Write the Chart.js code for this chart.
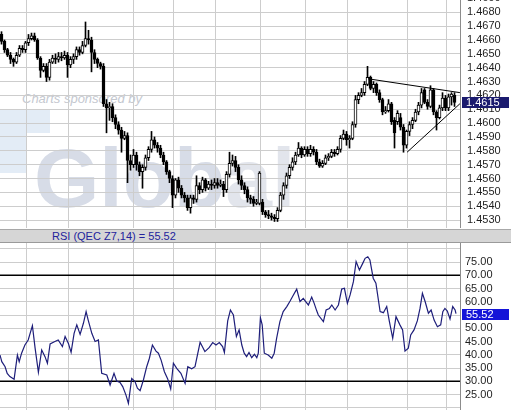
<!DOCTYPE html>
<html><head><meta charset="utf-8">
<script src="https://cdn.jsdelivr.net/npm/chart.js@4.4.1/dist/chart.umd.min.js"></script>
<style>
html,body{margin:0;padding:0;background:#fff;}
body{width:511px;height:410px;position:relative;overflow:hidden;font-family:'Liberation Sans',Arial,sans-serif;}
.abs{position:absolute;}
#wmSp{left:22px;top:91px;font:italic 13px 'Liberation Sans',Arial,sans-serif;color:#c4c8d0;white-space:nowrap;}
#wmG{left:34px;top:136px;font:bold 84px/84px 'Liberation Sans',Arial,sans-serif;color:#d7dce7;white-space:nowrap;}
#wmG span{color:#e2e5ec;}
#rsiBar{left:0;top:229px;width:511px;height:12px;background:#d6d6d6;border-top:1px solid #a8a8a8;border-bottom:1px solid #9a9a9a;font:11px/12px 'Liberation Sans',Arial,sans-serif;color:#23239c;}
#rsiBar span{position:absolute;left:52px;top:0;}
</style></head>
<body>
<div class="abs" style="left:0;top:110px;width:50px;height:23px;background:#e3ecf6"></div>
<div class="abs" style="left:0;top:133px;width:27px;height:40px;background:#e3ecf6"></div>
<div class="abs" id="wmSp">Charts sponsored by</div>
<div class="abs" id="wmG">Glob<span>al</span></div>
<canvas id="price" class="abs" width="511" height="248" style="left:0;top:-20px;width:511px;height:248px"></canvas>
<div id="rsiBar" class="abs"><span id="rsiTitle"></span></div>
<canvas id="rsi" class="abs" width="511" height="167" style="left:0;top:243px;width:511px;height:167px"></canvas>
<script>
// ---- data ----
const open = [1.4664,1.4659,1.4653,1.4649,1.4646,1.4644,1.4649,1.4654,1.4653,1.4658,
1.4661,1.4663,1.4660,1.4647,1.4638,1.4641,1.4633,1.4644,1.4647,1.4646,
1.4648,1.4647,1.4649,1.4642,1.4646,1.4648,1.4653,1.4651,1.4656,1.4661,
1.4660,1.4651,1.4646,1.4643,1.4641,1.4614,1.4611,1.4612,1.4604,1.4599,
1.4595,1.4589,1.4591,1.4573,1.4570,1.4577,1.4570,1.4565,1.4568,1.4575,
1.4581,1.4588,1.4584,1.4582,1.4577,1.4572,1.4565,1.4560,1.4548,1.4559,
1.4553,1.4548,1.4546,1.4539,1.4546,1.4545,1.4555,1.4552,1.4559,1.4553,
1.4556,1.4555,1.4557,1.4555,1.4556,1.4552,1.4563,1.4571,1.4573,1.4568,
1.4559,1.4555,1.4552,1.4546,1.4545,1.4542,1.4542,1.4543,1.4536,1.4534,
1.4533,1.4532,1.4531,1.4537,1.4548,1.4555,1.4562,1.4568,1.4572,1.4577,
1.4582,1.4577,1.4581,1.4578,1.4581,1.4579,1.4572,1.4569,1.4571,1.4575,
1.4576,1.4579,1.4578,1.4581,1.4589,1.4592,1.4588,1.4589,1.4599,1.4617,
1.4620,1.4622,1.4628,1.4633,1.4625,1.4628,1.4622,1.4617,1.4608,1.4609,
1.4614,1.4602,1.4601,1.4604,1.4597,1.4584,1.4594,1.4599,1.4602,1.4608,
1.4613,1.4624,1.4615,1.4612,1.4624,1.4608,1.4604,1.4611,1.4618,1.4611,
1.4619,1.4620];
const high = [1.4666,1.4660,1.4654,1.4651,1.4647,1.4651,1.4656,1.4656,1.4659,1.4664,
1.4665,1.4665,1.4661,1.4648,1.4643,1.4643,1.4646,1.4649,1.4650,1.4651,
1.4651,1.4652,1.4651,1.4648,1.4650,1.4655,1.4655,1.4659,1.4673,1.4667,
1.4662,1.4653,1.4647,1.4644,1.4643,1.4617,1.4615,1.4614,1.4606,1.4601,
1.4597,1.4594,1.4593,1.4577,1.4581,1.4579,1.4572,1.4570,1.4577,1.4583,
1.4594,1.4590,1.4586,1.4584,1.4579,1.4573,1.4566,1.4562,1.4560,1.4561,
1.4555,1.4550,1.4548,1.4548,1.4548,1.4562,1.4557,1.4561,1.4560,1.4558,
1.4559,1.4560,1.4560,1.4559,1.4558,1.4565,1.4579,1.4577,1.4576,1.4570,
1.4562,1.4557,1.4554,1.4548,1.4547,1.4545,1.4565,1.4545,1.4537,1.4537,
1.4535,1.4534,1.4539,1.4550,1.4557,1.4564,1.4570,1.4575,1.4579,1.4586,
1.4583,1.4583,1.4583,1.4584,1.4583,1.4581,1.4574,1.4573,1.4577,1.4578,
1.4581,1.4581,1.4583,1.4591,1.4595,1.4594,1.4591,1.4601,1.4620,1.4622,
1.4625,1.4630,1.4641,1.4634,1.4630,1.4629,1.4624,1.4618,1.4612,1.4617,
1.4615,1.4604,1.4609,1.4607,1.4599,1.4595,1.4601,1.4604,1.4610,1.4615,
1.4625,1.4625,1.4617,1.4627,1.4625,1.4609,1.4613,1.4622,1.4620,1.4621,
1.4622,1.4622];
const low = [1.4657,1.4651,1.4648,1.4643,1.4641,1.4643,1.4648,1.4651,1.4651,1.4656,
1.4660,1.4659,1.4646,1.4633,1.4637,1.4630,1.4631,1.4643,1.4643,1.4644,
1.4645,1.4646,1.4633,1.4640,1.4643,1.4646,1.4649,1.4650,1.4655,1.4657,
1.4637,1.4643,1.4640,1.4639,1.4612,1.4593,1.4602,1.4601,1.4596,1.4592,
1.4579,1.4588,1.4557,1.4566,1.4568,1.4566,1.4562,1.4553,1.4566,1.4573,
1.4579,1.4582,1.4579,1.4575,1.4570,1.4563,1.4557,1.4539,1.4546,1.4550,
1.4546,1.4543,1.4537,1.4535,1.4542,1.4543,1.4549,1.4550,1.4551,1.4552,
1.4552,1.4553,1.4553,1.4554,1.4547,1.4550,1.4561,1.4569,1.4565,1.4556,
1.4552,1.4549,1.4543,1.4542,1.4540,1.4541,1.4541,1.4534,1.4532,1.4531,
1.4530,1.4529,1.4529,1.4536,1.4545,1.4553,1.4560,1.4566,1.4570,1.4576,
1.4575,1.4576,1.4576,1.4576,1.4577,1.4570,1.4568,1.4568,1.4570,1.4573,
1.4575,1.4576,1.4577,1.4579,1.4588,1.4584,1.4582,1.4588,1.4597,1.4614,
1.4619,1.4620,1.4627,1.4624,1.4622,1.4620,1.4615,1.4606,1.4607,1.4608,
1.4599,1.4582,1.4599,1.4595,1.4579,1.4582,1.4591,1.4596,1.4601,1.4606,
1.4611,1.4614,1.4610,1.4611,1.4606,1.4595,1.4603,1.4609,1.4609,1.4609,
1.4613,1.4612];
const close = [1.4659,1.4653,1.4649,1.4646,1.4644,1.4649,1.4654,1.4653,1.4658,1.4661,
1.4663,1.4660,1.4647,1.4638,1.4641,1.4633,1.4644,1.4647,1.4646,1.4648,
1.4647,1.4649,1.4642,1.4646,1.4648,1.4653,1.4651,1.4656,1.4661,1.4660,
1.4651,1.4646,1.4643,1.4641,1.4614,1.4611,1.4612,1.4604,1.4599,1.4595,
1.4589,1.4591,1.4573,1.4570,1.4577,1.4570,1.4565,1.4568,1.4575,1.4581,
1.4588,1.4584,1.4582,1.4577,1.4572,1.4565,1.4560,1.4548,1.4559,1.4553,
1.4548,1.4546,1.4539,1.4546,1.4545,1.4555,1.4552,1.4559,1.4553,1.4556,
1.4555,1.4557,1.4555,1.4556,1.4552,1.4563,1.4571,1.4573,1.4568,1.4559,
1.4555,1.4552,1.4546,1.4545,1.4542,1.4543,1.4564,1.4536,1.4534,1.4533,
1.4532,1.4531,1.4537,1.4548,1.4555,1.4562,1.4568,1.4572,1.4577,1.4582,
1.4577,1.4581,1.4578,1.4581,1.4579,1.4572,1.4569,1.4571,1.4575,1.4576,
1.4579,1.4578,1.4581,1.4589,1.4592,1.4588,1.4589,1.4599,1.4617,1.4620,
1.4622,1.4628,1.4633,1.4625,1.4628,1.4622,1.4617,1.4608,1.4609,1.4614,
1.4601,1.4593,1.4607,1.4597,1.4584,1.4594,1.4599,1.4602,1.4608,1.4613,
1.4622,1.4615,1.4612,1.4624,1.4608,1.4604,1.4611,1.4618,1.4611,1.4619,
1.4621,1.4615];

// session (day) separators, in bar units
const dayBreaks = [8.9, 22.8, 44.4, 57.8, 71.7, 86.7, 101.9, 115.8, 135.8, 148.9];
// triangle trend lines (bar units, price)
const upperLineX = [122.7, 153.3], upperLineY = [1.4632, 1.4622];
const lowerLineX = [135.7, 153.3], lowerLineY = [1.4579, 1.4614];

// RSI (14) vertices, bar units
const rsiPos = [0.0,0.6,1.7,2.4,3.3,4.7,5.8,6.4,7.2,8.3,9.4,10.8,11.7,12.8,13.9,15.0,15.8,16.7,18.3,19.4,
20.8,21.7,22.8,23.7,24.7,25.6,26.7,27.8,28.7,29.4,30.6,31.7,32.8,33.9,35.6,36.7,38.0,38.9,40.0,40.9,
42.0,42.8,43.9,45.0,45.8,46.7,47.8,48.9,49.8,50.8,52.0,52.8,53.7,54.8,55.9,56.9,57.8,58.9,60.3,61.7,
62.6,63.9,65.0,66.7,68.3,69.7,70.9,72.0,73.1,74.2,74.8,75.9,76.8,77.8,78.8,79.7,80.6,81.4,82.2,83.0,
83.9,84.8,85.6,86.1,86.8,87.4,88.1,89.4,90.6,91.4,92.2,93.3,94.4,95.6,96.7,97.8,98.9,100.0,101.1,101.9,
102.8,103.9,104.7,105.6,106.1,107.8,108.7,109.8,110.6,111.7,112.8,113.9,114.8,115.8,116.7,117.8,118.7,119.8,120.9,121.7,
122.6,123.3,124.4,125.3,126.7,127.8,128.9,129.8,130.9,132.0,133.3,134.2,135.0,136.1,136.9,138.0,139.1,140.0,140.8,141.7,
142.8,143.7,144.7,145.8,146.9,147.6,148.3,149.1,150.0,150.9,151.7,152.0];
const rsiVal = [39.9,37.4,35.5,33.0,31.8,30.8,39.9,37.4,40.6,43.7,45.6,51.0,42.5,33.4,41.8,39.3,36.8,44.1,45.0,45.6,
43.1,46.9,44.3,40.9,48.1,51.3,47.7,51.9,56.3,53.1,48.1,45.0,45.6,33.0,32.4,28.6,33.0,30.1,29.6,28.0,
24.8,21.7,31.1,29.9,27.4,26.5,30.5,35.5,38.7,43.7,41.4,40.6,38.0,33.6,30.9,27.1,36.8,34.9,33.0,29.2,
35.5,34.7,35.5,44.7,41.2,42.7,44.6,43.7,44.6,43.1,40.9,52.8,56.9,55.0,46.9,49.4,43.7,40.6,39.3,40.9,
38.9,40.2,38.9,40.6,54.0,51.3,40.6,39.9,38.7,40.6,46.2,52.5,56.3,58.2,60.3,62.6,64.8,60.1,61.3,60.1,
58.8,61.8,59.5,56.5,55.0,52.5,56.9,57.5,58.8,56.9,58.8,64.8,65.1,59.4,62.6,67.6,75.2,72.0,74.5,76.4,
77.0,75.8,68.9,67.0,56.3,55.9,58.2,52.5,46.2,54.4,51.3,49.4,41.4,42.5,47.5,49.4,52.8,57.5,63.2,60.1,
55.7,56.9,53.1,50.6,51.3,56.3,57.5,56.5,53.5,58.2,56.9,55.52];
const rsiLevels = [70, 30];
const rsiTickLabels = [25, 30, 35, 40, 45, 50, 55, 60, 65, 70, 75];

// ---- chart ----
const FONT = {family: "'Liberation Sans', Arial, sans-serif", size: 11};
const GRID = '#cdcdcd';
const X_MAX = 153.33;

function valueBox(text, value, fill) {
  return {
    id: 'vbox',
    afterDraw(chart) {
      const y = chart.scales.y.getPixelForValue(value);
      const ctx = chart.ctx, r = chart.chartArea.right;
      ctx.save();
      ctx.fillStyle = fill;
      ctx.fillRect(r + 2, Math.round(y) - 5, 509 - r - 2, 11);
      ctx.fillStyle = '#ffffff';
      ctx.font = "11px 'Liberation Sans', Arial, sans-serif";
      ctx.textBaseline = 'middle';
      ctx.textAlign = 'left';
      ctx.fillText(text, r + 6, Math.round(y) + 0.5);
      ctx.restore();
    }
  };
}

function xScale() {
  return {
    type: 'linear', min: 0, max: X_MAX, offset: false,
    grid: {color: GRID, drawTicks: false, offset: false},
    border: {display: false},
    ticks: {display: false},
    afterBuildTicks: s => { s.ticks = dayBreaks.map(v => ({value: v})); },
    afterFit: s => { s.height = 0; s.paddingLeft = 0; s.paddingRight = 0; }
  };
}

const pos = close.map((_, i) => i + 0.5);
const lastClose = close[close.length - 1];

new Chart(document.getElementById('price'), {
  type: 'bar',
  data: {
    datasets: [
      {type: 'line', data: upperLineX.map((x, i) => ({x, y: upperLineY[i]})), borderColor: '#000', borderWidth: 1, pointRadius: 0, order: 0},
      {type: 'line', data: lowerLineX.map((x, i) => ({x, y: lowerLineY[i]})), borderColor: '#000', borderWidth: 1, pointRadius: 0, order: 0},
      {data: pos.map((x, i) => ({x, y: [open[i], close[i]]})),
       backgroundColor: close.map((c, i) => c >= open[i] ? '#ffffff' : '#000000'),
       borderColor: '#000', borderWidth: 1, borderSkipped: false, barThickness: 3, grouped: false, minBarLength: 1, order: 1},
      {data: pos.map((x, i) => ({x, y: [low[i], high[i]]})),
       backgroundColor: '#000', borderWidth: 0, barThickness: 1, grouped: false, order: 2}
    ]
  },
  options: {
    responsive: false, animation: false, devicePixelRatio: 1,
    layout: {padding: 0},
    plugins: {legend: {display: false}, tooltip: {enabled: false}},
    scales: {
      x: xScale(),
      y: {
        position: 'right', min: 1.45243, max: 1.47033,
        grid: {color: GRID, drawTicks: false},
        border: {display: true, color: '#8c8c8c'},
        ticks: {stepSize: 0.001, includeBounds: false, autoSkip: false, padding: 7, color: '#1e1e1e', font: FONT,
                callback: v => v.toFixed(4)},
        afterFit: s => { s.width = 51; s.paddingTop = 0; s.paddingBottom = 0; }
      }
    }
  },
  plugins: [valueBox(lastClose.toFixed(4), lastClose, '#1b1b6e')]
});

const rsiLast = rsiVal[rsiVal.length - 1];
document.getElementById('rsiTitle').textContent = 'RSI (QEC Z7,14) = ' + rsiLast.toFixed(2);

new Chart(document.getElementById('rsi'), {
  type: 'line',
  data: {
    datasets: [
      {data: rsiPos.map((x, i) => ({x, y: rsiVal[i]})), borderColor: '#1e1e7a', borderWidth: 1.2, pointRadius: 0, tension: 0, order: 1},
      ...rsiLevels.map(l => ({data: [{x: 0, y: l}, {x: X_MAX, y: l}], borderColor: '#000', borderWidth: 1.5, pointRadius: 0, order: 2}))
    ]
  },
  options: {
    responsive: false, animation: false, devicePixelRatio: 1,
    layout: {padding: 0},
    plugins: {legend: {display: false}, tooltip: {enabled: false}},
    scales: {
      x: xScale(),
      y: {
        position: 'right', min: 19.17, max: 82.19,
        grid: {color: GRID, drawTicks: false},
        border: {display: true, color: '#8c8c8c'},
        ticks: {stepSize: 5, includeBounds: false, autoSkip: false, padding: 5, color: '#1e1e1e', font: FONT,
                callback: v => rsiTickLabels.includes(Math.round(v)) ? v.toFixed(2) : ''},
        afterFit: s => { s.width = 51; s.paddingTop = 0; s.paddingBottom = 0; }
      }
    }
  },
  plugins: [valueBox(rsiLast.toFixed(2), rsiLast, '#1414d8')]
});
</script>
</body></html>
